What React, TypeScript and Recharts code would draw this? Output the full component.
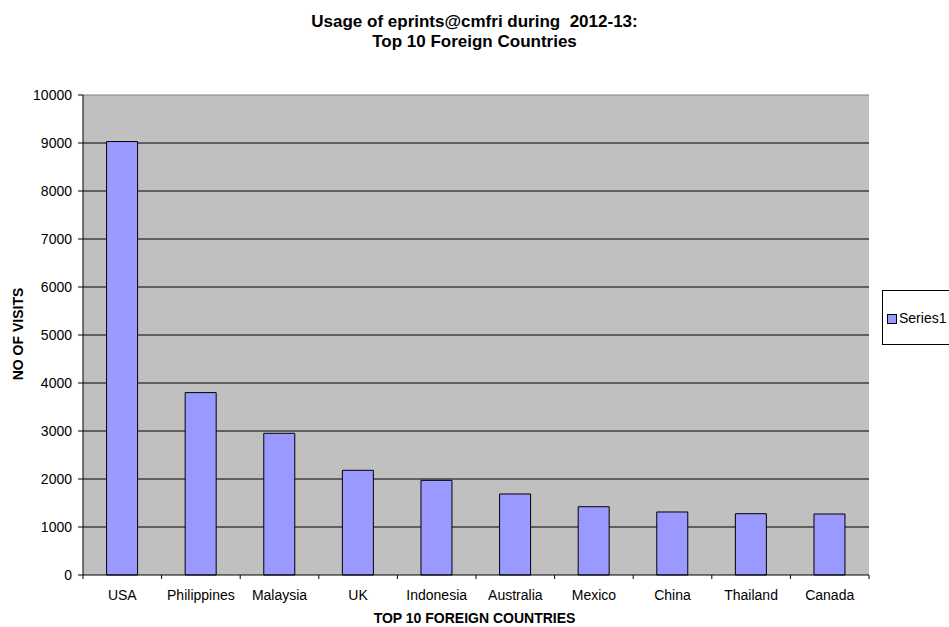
import React from 'react';
import { BarChart, Bar, XAxis, YAxis, CartesianGrid, ReferenceLine } from 'recharts';

const countries = ['USA', 'Philippines', 'Malaysia', 'UK', 'Indonesia', 'Australia', 'Mexico', 'China', 'Thailand', 'Canada'];
const visits = [9030, 3800, 2952, 2181, 1972, 1688, 1423, 1313, 1277, 1271];
const yTicks = [0, 1000, 2000, 3000, 4000, 5000, 6000, 7000, 8000, 9000, 10000];
const gridValues = [1000, 2000, 3000, 4000, 5000, 6000, 7000, 8000, 9000];

const data = countries.map((c, i) => ({ country: c, Series1: visits[i] }));

const W = 949;
const H = 627;
const M = { top: 95, right: 80, bottom: 22, left: 22 };
const YW = 61;
const XH = 30;
const FONT = '"Liberation Sans", Arial, sans-serif';
const BAND = (W - M.left - M.right - YW) / countries.length;

const XTick = (props: any) => {
  const { x, y, payload, index } = props;
  const half = (payload && payload.offset) ? payload.offset : BAND / 2;
  const axisY = y - 15;
  return (
    <g>
      <line x1={x - half} x2={x - half} y1={axisY} y2={axisY + 4} stroke="#000" />
      {index === countries.length - 1 && (
        <line x1={x + half} x2={x + half} y1={axisY} y2={axisY + 4} stroke="#000" />
      )}
      <text x={x} y={y} dy="0.71em" textAnchor="middle" fontSize={14} fontFamily={FONT} fill="#000">
        {payload.value}
      </text>
    </g>
  );
};

export default function App() {
  return (
    <div style={{ position: 'absolute', left: 0, top: 0, width: W, height: H, background: '#fff', fontFamily: FONT, overflow: 'hidden' }}>
      <div style={{ position: 'absolute', left: 0, width: W, top: 12, textAlign: 'center', fontWeight: 'bold', fontSize: 17, lineHeight: '20px', whiteSpace: 'pre' }}>
        {'Usage of eprints@cmfri during  2012-13:\nTop 10 Foreign Countries'}
      </div>
      <BarChart width={W} height={H} data={data} margin={M} barCategoryGap="30%">
        <CartesianGrid vertical={false} stroke="#000" fill="#c0c0c0" fillOpacity={1} horizontalValues={gridValues} />
        <XAxis
          dataKey="country"
          height={XH}
          tickLine={false}
          axisLine={{ stroke: '#000' }}
          tick={<XTick />}
          tickSize={5}
          tickMargin={10}
          interval={0}
        />
        <YAxis
          domain={[0, 10000]}
          ticks={yTicks}
          width={YW}
          tickSize={5}
          tickMargin={6}
          interval={0}
          axisLine={{ stroke: '#000' }}
          tickLine={{ stroke: '#000' }}
          tick={{ fontSize: 14, fontFamily: FONT, fill: '#000' }}
        />
        <YAxis yAxisId="r" orientation="right" width={0} tick={false} tickLine={false} axisLine={{ stroke: '#808080' }} domain={[0, 10000]} />
        <ReferenceLine y={10000} stroke="#808080" />
        <Bar dataKey="Series1" fill="#9999FF" stroke="#000" strokeWidth={1} isAnimationActive={false} />
      </BarChart>
      <div style={{ position: 'absolute', left: 882, top: 290, width: 80, height: 55, border: '1px solid #000', background: '#fff', boxSizing: 'border-box', fontSize: 14 }}>
        <div style={{ position: 'absolute', left: 4, top: 23, width: 8, height: 8, background: '#9999FF', border: '1px solid #000' }} />
        <div style={{ position: 'absolute', left: 16, top: 19, lineHeight: '16px', whiteSpace: 'nowrap' }}>Series1</div>
      </div>
      <div style={{ position: 'absolute', left: 0, width: W, top: 610, lineHeight: '17px', textAlign: 'center', fontWeight: 'bold', fontSize: 14 }}>
        TOP 10 FOREIGN COUNTRIES
      </div>
      <div style={{ position: 'absolute', left: 18, top: 334, width: 0, height: 0 }}>
        <div style={{ position: 'absolute', left: 0, top: 0, transform: 'translate(-50%, -50%) rotate(-90deg)', whiteSpace: 'nowrap', fontWeight: 'bold', fontSize: 14, lineHeight: '17px' }}>
          NO OF VISITS
        </div>
      </div>
    </div>
  );
}
